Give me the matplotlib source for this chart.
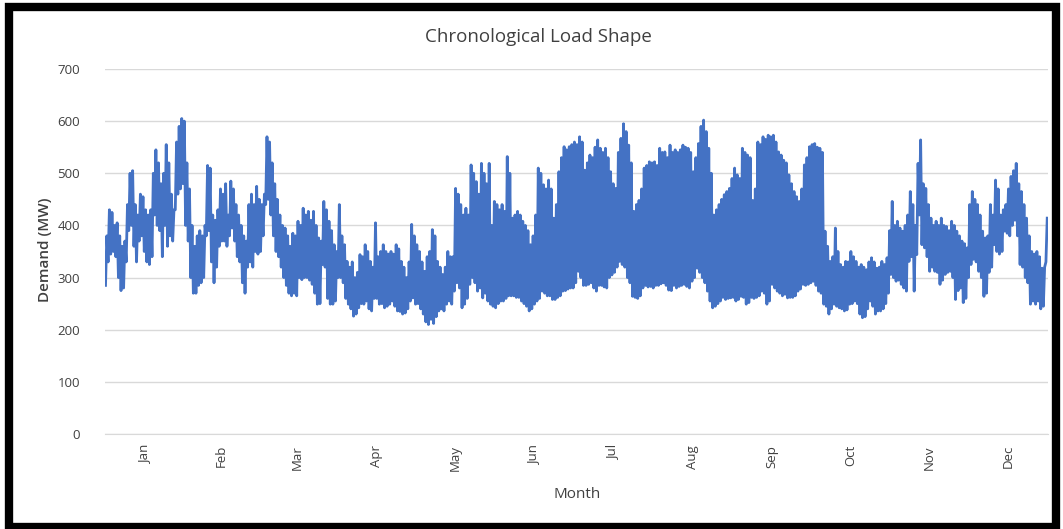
import numpy as np
import matplotlib.pyplot as plt
from matplotlib.patches import Rectangle

# daily peak / trough demand (MW), Jan 1 .. Dec 31
daily_max = [
    380, 430, 425, 400, 405, 380, 360, 370, 440, 500, 505, 440, 420, 460, 455, 430, 420, 430, 500, 545,
    520, 480, 500, 555, 520, 460, 430, 560, 590, 605, 600, 520, 470, 400, 360, 380, 390, 380, 400, 515,
    510, 420, 410, 430, 470, 460, 480, 420, 485, 470, 440, 420, 400, 380, 370, 440, 460, 440, 475, 450,
    440, 460, 570, 560, 520, 480, 450, 420, 400, 395, 380, 360, 385, 380,
    408, 400, 433, 420, 427, 410, 427, 400, 376, 370, 446, 430, 408, 390, 363, 350, 440, 380, 363, 331,
    320, 330, 300, 310, 344, 340, 363, 350, 331, 320, 405, 340, 350, 363, 350, 345, 350, 345, 363, 355,
    331, 320, 300, 330, 402, 380, 363, 350, 330, 312, 340, 350, 392, 380, 331, 320, 306, 320, 350, 340,
    340, 471, 460, 440, 420, 433, 420, 516, 500, 484, 460, 519, 500, 480,
    519, 400, 446, 440, 430, 440, 427, 532, 500, 414, 420, 427, 420, 408, 400, 390, 363, 380, 420, 510,
    500, 478, 470, 487, 470, 414, 440, 503, 530, 551, 545, 551, 555, 560, 555, 570, 560, 506, 520, 535,
    530, 550, 564, 548, 540, 548, 530, 503, 480, 471, 540, 567, 595, 580, 554, 520, 427, 440, 448, 470,
    510, 515, 522, 520, 522, 515, 548, 540, 541, 530, 554, 540, 545, 540,
    545, 554, 550, 548, 540, 503, 530, 557, 590, 602, 580, 548, 500, 420, 430, 440, 450, 459, 465, 471,
    490, 510, 497, 490, 548, 540, 535, 530, 448, 470, 560, 555, 570, 565, 573, 570, 573, 560, 541, 535,
    525, 520, 497, 480, 465, 455, 446, 470, 516, 530, 551, 555, 557, 550, 548, 540, 389, 360, 331, 340,
    395, 350, 325, 320, 331, 330, 350, 340, 331, 320, 325, 320, 315, 330,
    338, 330, 318, 320, 331, 325, 338, 390, 446, 400, 408, 395, 389, 400, 420, 465, 440, 400, 519, 564,
    480, 471, 440, 414, 400, 408, 400, 414, 400, 398, 390, 408, 400, 389, 380, 370, 365, 357, 440, 465,
    450, 440, 420, 389, 376, 380, 440, 420, 487, 470, 420, 430, 440, 470, 494, 505, 519, 480, 465, 440,
    414, 380, 350, 345, 350, 340, 318, 320, 414,
]
daily_min = [
    285, 330, 345, 350, 340, 300, 275, 280, 330, 390, 400, 360, 330, 370, 380, 350, 330, 325, 340, 420,
    400, 390, 340, 400, 360, 380, 370, 430, 460, 470, 480, 400, 370, 300, 270, 270, 285, 290, 300, 380,
    390, 330, 290, 320, 360, 370, 370, 360, 380, 395, 370, 340, 330, 290, 270, 320, 330, 320, 350, 345,
    350, 380, 440, 450, 420, 380, 350, 340, 320, 300, 285, 270, 265, 270,
    265, 300, 296, 300, 300, 295, 287, 270, 249, 250, 325, 320, 260, 249, 249, 255, 300, 300, 290, 260,
    249, 240, 226, 230, 242, 250, 249, 255, 240, 236, 260, 260, 249, 250, 242, 245, 249, 255, 245, 236,
    235, 230, 232, 240, 255, 261, 249, 250, 240, 230, 215, 210, 220, 212, 225, 236, 240, 236, 249, 255,
    249, 274, 290, 280, 242, 249, 260, 287, 300, 290, 274, 280, 261, 270,
    255, 249, 245, 242, 250, 255, 255, 260, 265, 265, 265, 262, 262, 255, 250, 245, 236, 240, 249, 255,
    260, 274, 270, 265, 265, 258, 258, 262, 265, 274, 275, 278, 280, 280, 290, 312, 300, 285, 285, 287,
    290, 280, 274, 285, 285, 282, 280, 300, 305, 310, 320, 331, 325, 320, 300, 290, 264, 262, 260, 265,
    280, 285, 282, 283, 280, 285, 285, 288, 290, 285, 276, 275, 285, 280,
    283, 285, 287, 283, 280, 293, 300, 318, 310, 300, 290, 274, 255, 242, 245, 250, 255, 262, 258, 260,
    261, 262, 255, 258, 264, 262, 249, 252, 262, 260, 262, 265, 274, 270, 249, 255, 287, 280, 274, 270,
    265, 268, 261, 262, 262, 265, 274, 278, 287, 285, 287, 290, 293, 285, 274, 270, 249, 245, 230, 240,
    249, 245, 242, 240, 236, 238, 249, 250, 255, 250, 230, 223, 225, 240,
    255, 245, 230, 236, 236, 240, 250, 270, 306, 300, 293, 295, 287, 280, 274, 331, 340, 274, 344, 420,
    363, 357, 340, 312, 320, 312, 310, 287, 295, 306, 310, 312, 300, 258, 275, 280, 252, 260, 300, 325,
    335, 330, 312, 300, 264, 270, 310, 320, 363, 350, 345, 350, 389, 385, 380, 400, 410, 380, 325, 320,
    300, 290, 249, 255, 249, 255, 240, 245, 330,
]
months = ['Jan', 'Feb', 'Mar', 'Apr', 'May', 'Jun', 'Jul', 'Aug', 'Sep', 'Oct', 'Nov', 'Dec']
month_days = [31, 28, 31, 30, 31, 30, 31, 31, 30, 31, 30, 31]

assert len(daily_max) == 365 and len(daily_min) == 365

# night trough then afternoon peak for each day
days = np.arange(365)
t = np.column_stack([days + 0.2, days + 0.7]).ravel()
load = np.column_stack([daily_min, daily_max]).ravel()

plt.rcParams['font.family'] = ['Open Sans', 'DejaVu Sans']
grey = '#404040'

fig = plt.figure(figsize=(10.63, 5.29), dpi=100)
fig.patch.set_facecolor('white')
# black frame round the screenshot
fig.patches.append(Rectangle((9 / 1063, 2 / 529), 1047 / 1063, 520 / 529,
                             transform=fig.transFigure, fill=False,
                             edgecolor='black', linewidth=6))

ax = fig.add_axes([105 / 1063, 95 / 529, 943 / 1063, 365 / 529])
ax.plot(t, load, color='#4472C4', linewidth=2.0, solid_joinstyle='round')

ax.set_xlim(0, 365)
ax.set_ylim(0, 700)
ax.set_yticks(np.arange(0, 701, 100))
starts = np.concatenate([[0], np.cumsum(month_days)[:-1]])
ax.set_xticks(starts + np.array(month_days) / 2)
ax.set_xticklabels(months, rotation=90)
ax.tick_params(axis='both', length=0, colors=grey, labelsize=9.5)
ax.tick_params(axis='y', pad=18)
ax.tick_params(axis='x', pad=8)
ax.grid(axis='y', color='#D9D9D9', linewidth=1)
ax.set_axisbelow(True)
for side in ['top', 'right', 'left']:
    ax.spines[side].set_visible(False)
ax.spines['bottom'].set_color('#D9D9D9')

fig.text(538 / 1063, 1 - 37 / 529, 'Chronological Load Shape', ha='center', va='center',
         fontsize=13.5, color=grey, fontweight='medium')
fig.text(45 / 1063, 1 - 250 / 529, 'Demand (MW)', ha='center', va='center', rotation=90,
         fontsize=11, color=grey, fontweight='semibold')
fig.text(577 / 1063, 1 - 494 / 529, 'Month', ha='center', va='center',
         fontsize=11, color=grey, fontweight='medium')

fig.savefig('out.png', dpi=100)
